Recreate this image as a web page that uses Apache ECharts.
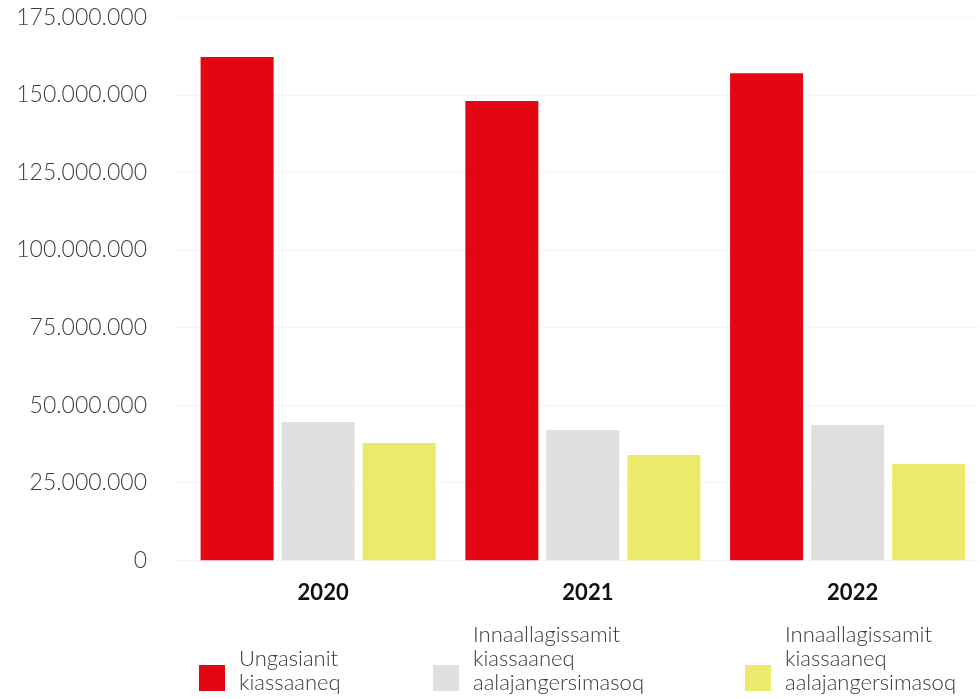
<!DOCTYPE html>
<html>
<head>
<meta charset="utf-8">
<script src="https://cdn.jsdelivr.net/npm/echarts@6/dist/echarts.min.js"></script>
<style>html,body{margin:0;padding:0;background:#fff;}#main{width:980px;height:699px;}</style>
</head>
<body>
<div id="main"></div>
<script>
var categories = ['2020', '2021', '2022'];
var seriesNames = [
  'Ungasianit\nkiassaaneq',
  'Innaallagissamit\nkiassaaneq\naalajangersimasoq',
  'Innaallagissamit\nkiassaaneq\naalajangersimasoq '
];
var ungasianit = [162200000, 148000000, 157000000];
var innaallagissamitFast = [44600000, 42000000, 43600000];
var innaallagissamitAala = [37800000, 33900000, 31000000];
var yMin = 0, yMax = 175000000, yStep = 25000000;

var colors = ['#E30713', '#DFE0DF', '#EBEA6B'];
var font = 'Lato, "Open Sans", sans-serif';

function fmt(v) {
  return String(v).replace(/\B(?=(\d{3})+(?!\d))/g, '.');
}

var chart = echarts.init(document.getElementById('main'));
function legendItem(idx, left, top, spacer) {
  return {
    orient: 'horizontal',
    padding: 0,
    icon: 'rect',
    itemWidth: 26,
    itemHeight: 26,
    selectedMode: false,
    left: left,
    top: top,
    data: [{ name: seriesNames[idx] }],
    formatter: function (name) {
      return name.trim().split('\n').map(function (l) { return '{t|' + l + '}'; }).join('\n') + '\n{s|\u00a0}';
    },
    textStyle: {
      fontFamily: font, fontWeight: 300, fontSize: 22, lineHeight: 24,
      color: '#3a3a3a',
      rich: {
        t: { fontFamily: font, fontWeight: 300, fontSize: 22, lineHeight: 24, color: '#3a3a3a', padding: [0, 0, 0, 9] },
        s: { fontSize: 4, lineHeight: spacer }
      }
    }
  };
}

var option = {
  animation: false,
  color: colors,
  grid: [
    { left: 173, right: 0, top: 17.3, bottom: 138.7 },
    { left: 185.75, right: -2.25, top: 17.3, bottom: 138.7 }
  ],
  xAxis: [
    { type: 'value', gridIndex: 0, show: false },
    {
      type: 'category', gridIndex: 1, data: categories,
      axisLine: { show: false }, axisTick: { show: false },
      axisLabel: { margin: 22, fontFamily: font, fontWeight: 'bold', fontSize: 22, color: '#111', padding: [0, 0, 0, 10] }
    }
  ],
  yAxis: [
    {
      type: 'value', gridIndex: 0, min: yMin, max: yMax, interval: yStep,
      axisLine: { show: false }, axisTick: { show: false },
      axisLabel: {
        margin: 26, fontFamily: font, fontWeight: 300, fontSize: 23, color: '#3f3f3f',
        padding: [0, 0, 4, 0],
        formatter: function (v) { return fmt(v); }
      },
      splitLine: { show: true, lineStyle: { color: '#d6d6d6', width: 1, type: [1, 3] } }
    },
    { type: 'value', gridIndex: 1, min: yMin, max: yMax, interval: yStep, show: false, splitLine: { show: false } }
  ],
  legend: [
    legendItem(0, 199, 647, 14),
    legendItem(1, 433, 623, 38),
    legendItem(2, 745, 623, 38)
  ],
  series: [
    { name: seriesNames[0], type: 'bar', xAxisIndex: 1, yAxisIndex: 1, data: ungasianit, barWidth: 73, barGap: '11%' },
    { name: seriesNames[1], type: 'bar', xAxisIndex: 1, yAxisIndex: 1, data: innaallagissamitFast, barWidth: 73, barGap: '11%' },
    { name: seriesNames[2], type: 'bar', xAxisIndex: 1, yAxisIndex: 1, data: innaallagissamitAala, barWidth: 73, barGap: '11%' }
  ]
};
chart.setOption(option);
</script>
</body>
</html>
